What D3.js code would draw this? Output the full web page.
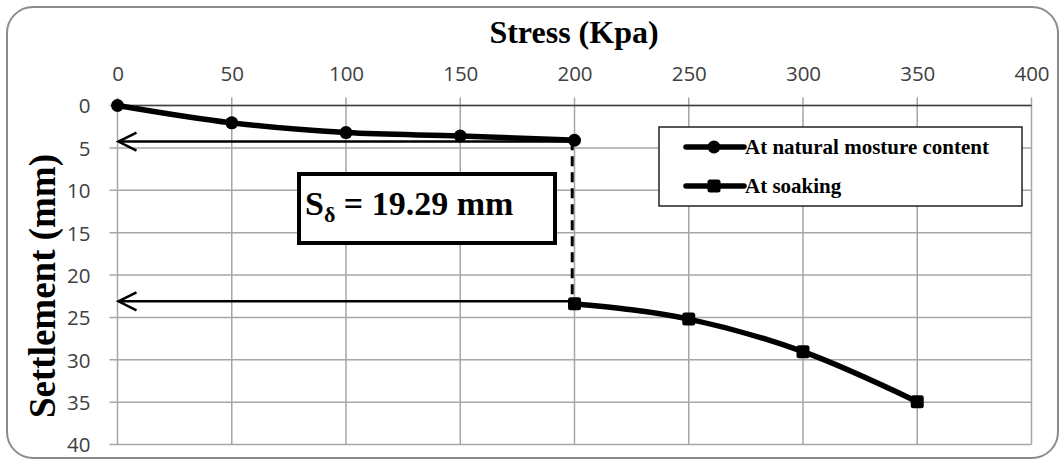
<!DOCTYPE html>
<html><head><meta charset="utf-8">
<script src="https://cdn.jsdelivr.net/npm/d3@7"></script>
<style>body{margin:0;background:#fff}svg{display:block}</style>
</head><body><svg id="c" width="1062" height="461"></svg>
<script>
const stress = [0, 50, 100, 150, 200];
const natural = [0, 2.05, 3.2, 3.6, 4.1];
const soakStress = [200, 250, 300, 350];
const soaking = [23.39, 25.2, 29.05, 34.95];
const xTicks = [0, 50, 100, 150, 200, 250, 300, 350, 400];
const yTicks = [0, 5, 10, 15, 20, 25, 30, 35, 40];
const arrowLevels = [4.25, 23.1];
const seriesNames = ["At natural mosture content", "At soaking"];

const svg = d3.select("#c");
const serif = "Liberation Serif, Times New Roman, serif";
const m = {l: 117.5, r: 1031.5, t: 105.5, b: 444.5};
const x = d3.scaleLinear().domain([0, 400]).range([m.l, m.r]);
const y = d3.scaleLinear().domain([0, 40]).range([m.t, m.b]);

svg.append("rect").attr("x", 7).attr("y", 7).attr("width", 1051).attr("height", 451)
  .attr("rx", 26).attr("fill", "#fff").attr("stroke", "#8c8c8c").attr("stroke-width", 2);

// gridlines
const grid = svg.append("g");
grid.selectAll(".gx").data(xTicks).join("line")
  .attr("x1", d => x(d)).attr("x2", d => x(d)).attr("y1", m.t - 8).attr("y2", m.b)
  .attr("stroke", "#a6a6a6").attr("stroke-width", 1.5);
grid.selectAll(".gy").data(yTicks).join("line")
  .attr("x1", m.l - 8).attr("x2", m.r).attr("y1", d => y(d)).attr("y2", d => y(d))
  .attr("stroke", "#a6a6a6").attr("stroke-width", 1.5);
svg.append("line").attr("x1", m.l).attr("x2", m.r).attr("y1", m.t).attr("y2", m.t)
  .attr("stroke", "#404040").attr("stroke-width", 1.5);

// tick labels via axes
const xAxis = svg.append("g").attr("transform", `translate(0,${m.t})`)
  .call(d3.axisTop(x).tickValues(xTicks).tickSize(0).tickPadding(25));
const yAxis = svg.append("g").attr("transform", `translate(${m.l},0)`)
  .call(d3.axisLeft(y).tickValues(yTicks).tickSize(0).tickPadding(27));
[xAxis, yAxis].forEach(a => {
  a.select(".domain").remove();
  a.selectAll("text").attr("font-family", "Open Sans, sans-serif").attr("font-size", 20.5)
    .attr("fill", "#404040");
});
yAxis.selectAll("text").attr("dy", "0.36em");

// titles
svg.append("text").attr("x", 574).attr("y", 43).attr("text-anchor", "middle")
  .attr("font-family", serif).attr("font-weight", "bold")
  .attr("font-size", 32).text("Stress (Kpa)");
svg.append("text").attr("transform", "translate(55,286) rotate(-90)").attr("text-anchor", "middle")
  .attr("font-family", serif).attr("font-weight", "bold")
  .attr("font-size", 37).text("Settlement (mm)");

// arrows
const arr = svg.append("g");
arrowLevels.forEach(v => {
  arr.append("line").attr("x1", x(200)).attr("x2", x(0) + 1).attr("y1", y(v)).attr("y2", y(v))
    .attr("stroke", "#000").attr("stroke-width", 2.5);
  arr.append("path").attr("d", `M${x(0) + 19},${y(v) - 9} L${x(0) + 1},${y(v)} L${x(0) + 19},${y(v) + 9}`)
    .attr("fill", "none").attr("stroke", "#000").attr("stroke-width", 2.5);
});
svg.append("line").attr("x1", x(199)).attr("x2", x(199)).attr("y1", y(natural[4])).attr("y2", y(soaking[0]))
  .attr("stroke", "#000").attr("stroke-width", 3).attr("stroke-dasharray", "10,6");

// text box
svg.append("rect").attr("x", 299).attr("y", 174).attr("width", 256).attr("height", 69)
  .attr("fill", "#fff").attr("stroke", "#000").attr("stroke-width", 4);
const tb = svg.append("text").attr("x", 305).attr("y", 215)
  .attr("font-family", serif).attr("font-weight", "bold").attr("font-size", 34);
tb.append("tspan").text("S");
tb.append("tspan").attr("font-size", 22).attr("dy", 7).text("δ");
tb.append("tspan").attr("dy", -7).text(" = 19.29 mm");

// series
const line = d3.line().x(d => x(d[0])).y(d => y(d[1])).curve(d3.curveMonotoneX);
const natPts = stress.map((s, i) => [s, natural[i]]);
const soakPts = soakStress.map((s, i) => [s, soaking[i]]);
svg.append("path").attr("d", line(natPts)).attr("fill", "none").attr("stroke", "#000").attr("stroke-width", 5.5);
svg.append("path").attr("d", line(soakPts)).attr("fill", "none").attr("stroke", "#000").attr("stroke-width", 5.5);
svg.selectAll(".nm").data(natPts).join("circle").attr("cx", d => x(d[0])).attr("cy", d => y(d[1]))
  .attr("r", 6.5).attr("fill", "#000");
svg.selectAll(".sm").data(soakPts).join("rect").attr("x", d => x(d[0]) - 6.5).attr("y", d => y(d[1]) - 6.5)
  .attr("width", 13).attr("height", 13).attr("rx", 2.5).attr("fill", "#000");

// legend
const lg = svg.append("g");
lg.append("rect").attr("x", 659).attr("y", 127).attr("width", 363).attr("height", 79)
  .attr("fill", "#fff").attr("stroke", "#222").attr("stroke-width", 1.5);
seriesNames.forEach((n, i) => {
  const ly = 147 + i * 39;
  lg.append("line").attr("x1", 686).attr("x2", 744).attr("y1", ly).attr("y2", ly)
    .attr("stroke", "#000").attr("stroke-width", 5.5).attr("stroke-linecap", "round");
  if (i === 0) lg.append("circle").attr("cx", 714).attr("cy", ly).attr("r", 6.5).attr("fill", "#000");
  else lg.append("rect").attr("x", 707.5).attr("y", ly - 6.5).attr("width", 13).attr("height", 13).attr("rx", 2.5).attr("fill", "#000");
  lg.append("text").attr("x", 745).attr("y", ly + 7)
    .attr("font-family", serif).attr("font-weight", "bold")
    .attr("font-size", 21).text(n);
});
</script></body></html>
